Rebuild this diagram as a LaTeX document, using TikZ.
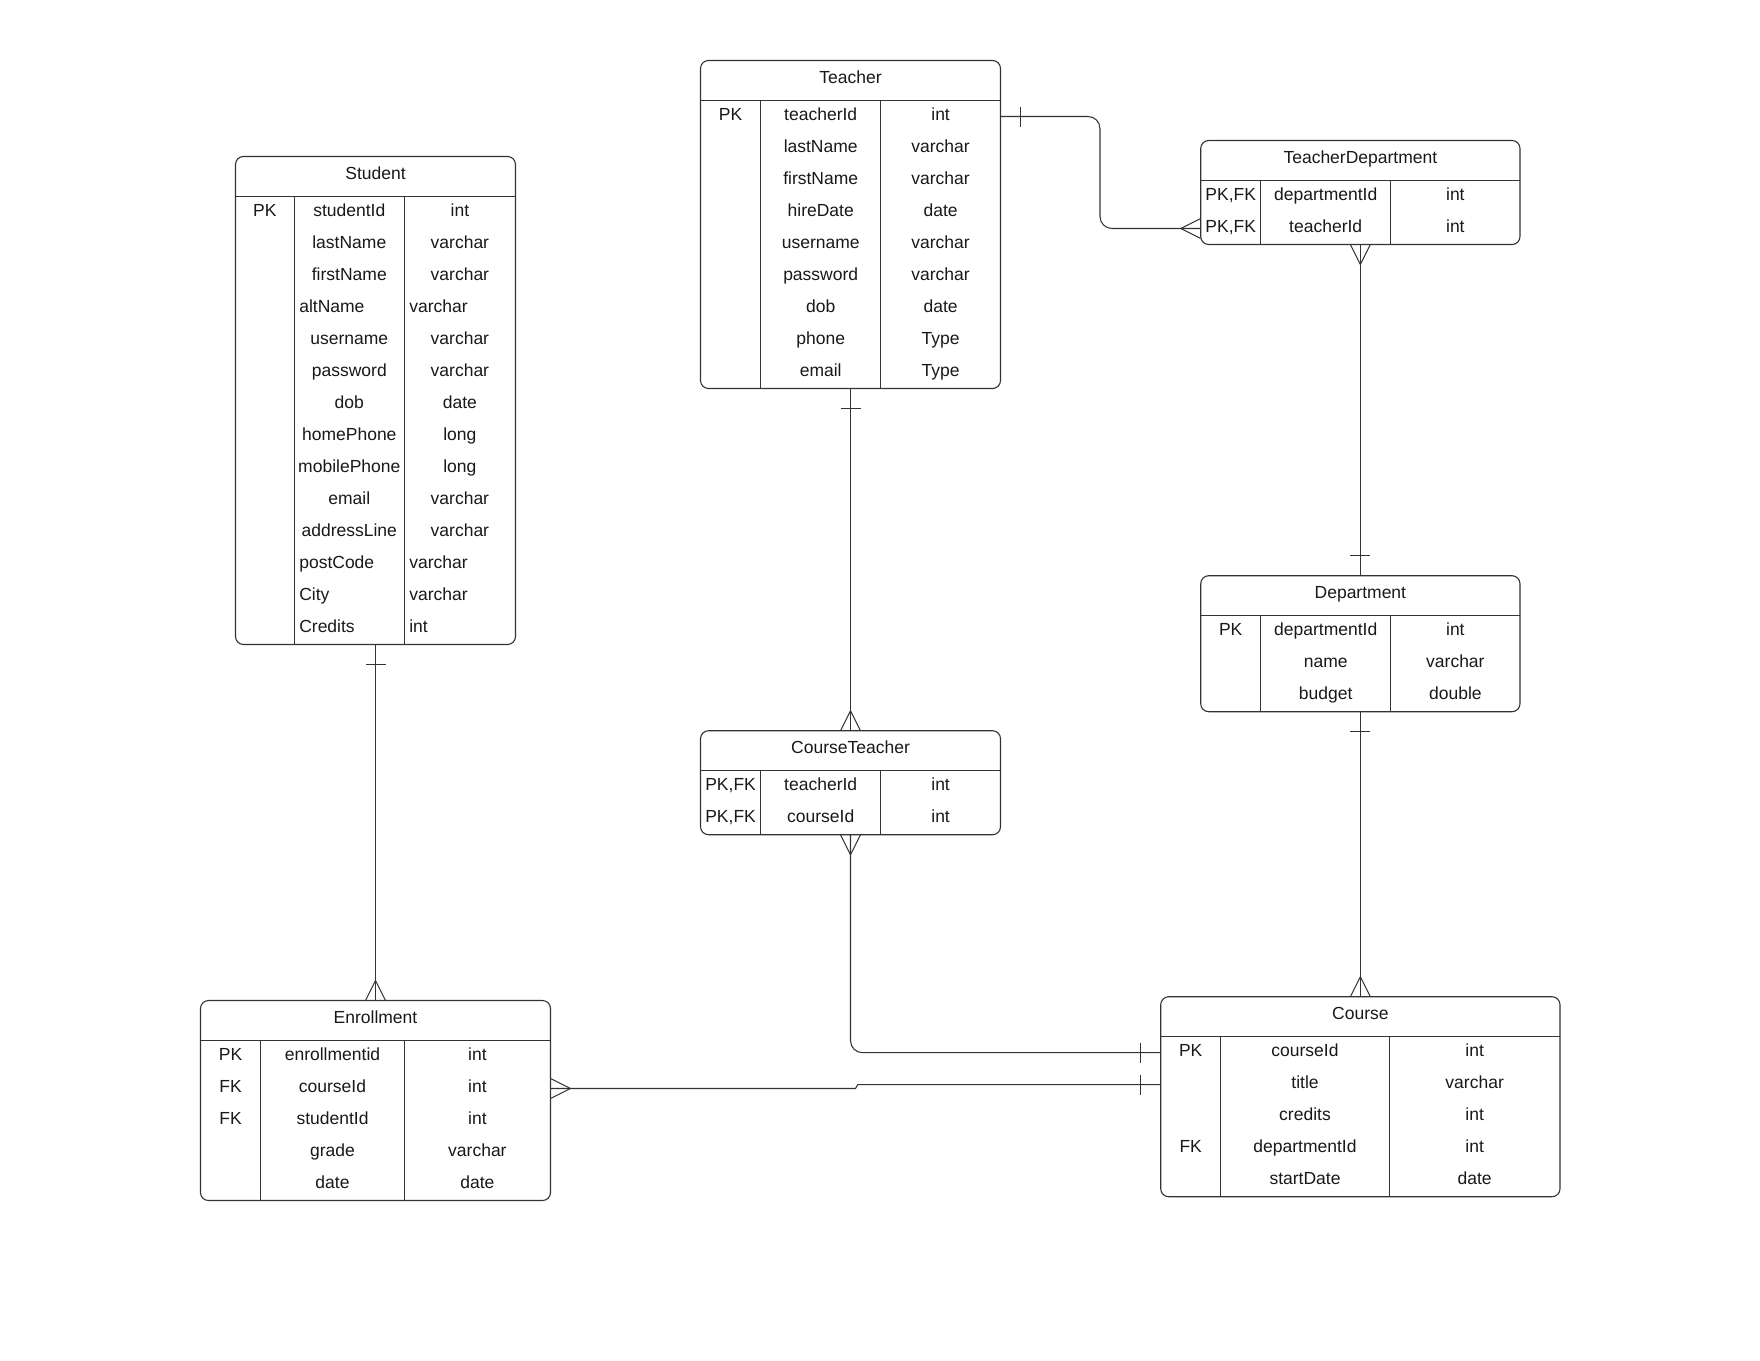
\documentclass[tikz,border=0pt]{standalone}
\usepackage{fontspec}
\setmainfont{Liberation Sans}
\usetikzlibrary{calc}

\tikzset{
  tablebox/.style={draw=black!80, line width=1.1pt, rounded corners=8pt, inner sep=0pt, outer sep=0pt},
  rule/.style={draw=black!80, line width=1.05pt},
  conn/.style={draw=black!80, line width=1.05pt},
  celltext/.style={inner sep=0pt, outer sep=0pt, font=\fontsize{17.5}{21}\selectfont, text=black!90},
}

% \ertable{name}{left}{top}{col1}{col2}{right}{rows}{title}{key/field/type/align list}
\newcommand\ertable[9]{%
  \pgfmathsetmacro\ertH{#3+40}%
  \pgfmathsetmacro\ertB{#3+40+32*#7}%
  \pgfmathsetmacro\ertW{#6-#2}%
  \pgfmathsetmacro\ertHt{\ertB-#3}%
  \node[tablebox, minimum width=\ertW pt, minimum height=\ertHt pt] (#1) at ({(#2+#6)/2},{(#3+\ertB)/2}) {};
  \node[celltext, anchor=base] (#1-title) at ({(#2+#6)/2},{#3+23}) {#8};
  \draw[rule] (#2,\ertH) -- (#6,\ertH);
  \draw[rule] (#4,\ertH) -- (#4,\ertB);
  \draw[rule] (#5,\ertH) -- (#5,\ertB);
  \foreach \k/\n/\t/\al [count=\i] in {#9} {
    \pgfmathsetmacro\ertRY{\ertH+16+32*(\i-1)}
    \coordinate (#1-r\i) at ({(#2+#6)/2},\ertRY);
    \node[celltext, anchor=base] (#1-k\i) at ({(#2+#4)/2},{\ertRY+4}) {\k};
    \if l\al
      \node[celltext, anchor=base west] (#1-n\i) at ({#4+5},{\ertRY+4}) {\n};
      \node[celltext, anchor=base west] (#1-t\i) at ({#5+5},{\ertRY+4}) {\t};
    \else
      \node[celltext, anchor=base] (#1-n\i) at ({(#4+#5)/2},{\ertRY+4}) {\n};
      \node[celltext, anchor=base] (#1-t\i) at ({(#5+#6)/2},{\ertRY+4}) {\t};
    \fi
  }
}

% bar across a connector, 20 units out from the table edge in direction (#2,#3)
\newcommand\onemark[3]{%
  \draw[conn] ($(#1)+(#2*20,#3*20)+(#3*10,#2*10)$) -- ($(#1)+(#2*20,#3*20)-(#3*10,#2*10)$);
}
% crow's foot meeting the table edge, apex 20 units out in direction (#2,#3)
\newcommand\manymark[3]{%
  \draw[conn] ($(#1)+(#3*10,#2*10)$) -- ($(#1)+(#2*20,#3*20)$) -- ($(#1)-(#3*10,#2*10)$);
}

\begin{document}
\begin{tikzpicture}[x=1pt, y=-1pt]
\useasboundingbox (0,0) rectangle (1760,1360);
\fill[white] (0,0) rectangle (1760,1360);

\ertable{student}{235.5}{156.5}{294.3}{404.3}{515.5}{14}{Student}{%
  PK/studentId/int/c, {}/lastName/varchar/c, {}/firstName/varchar/c,
  {}/altName/varchar/l, {}/username/varchar/c, {}/password/varchar/c,
  {}/dob/date/c, {}/homePhone/long/c, {}/mobilePhone/long/c,
  {}/email/varchar/c, {}/addressLine/varchar/c, {}/postCode/varchar/l,
  {}/City/varchar/l, {}/Credits/int/l}

\ertable{teacher}{700.5}{60.5}{760.7}{880.7}{1000.5}{9}{Teacher}{%
  PK/teacherId/int/c, {}/lastName/varchar/c, {}/firstName/varchar/c,
  {}/hireDate/date/c, {}/username/varchar/c, {}/password/varchar/c,
  {}/dob/date/c, {}/phone/Type/c, {}/email/Type/c}

\ertable{td}{1200.7}{140.5}{1260.7}{1390.7}{1520}{2}{TeacherDepartment}{%
  {PK,FK}/departmentId/int/c, {PK,FK}/teacherId/int/c}

\ertable{dept}{1200.7}{575.7}{1260.7}{1390.7}{1520}{3}{Department}{%
  PK/departmentId/int/c, {}/name/varchar/c, {}/budget/double/c}

\ertable{ct}{700.5}{730.7}{760.7}{880.7}{1000.5}{2}{CourseTeacher}{%
  {PK,FK}/teacherId/int/c, {PK,FK}/courseId/int/c}

\ertable{enroll}{200.5}{1000.5}{260.7}{404.3}{550.5}{5}{Enrollment}{%
  PK/enrollmentid/int/c, FK/courseId/int/c, FK/studentId/int/c,
  {}/grade/varchar/c, {}/date/date/c}

\ertable{course}{1160.7}{996.7}{1220.7}{1389.3}{1560}{5}{Course}{%
  PK/courseId/int/c, {}/title/varchar/c, {}/credits/int/c,
  FK/departmentId/int/c, {}/startDate/date/c}

% Teacher -- TeacherDepartment
\coordinate (tA) at (teacher.east |- teacher-r1);
\coordinate (tB) at (td.west |- td-r2);
\path (teacher.east |- td-r2) ++(99.5,0) coordinate (tBend);
\draw[conn, rounded corners=12pt] (tA) -| (tBend) -- (tB);
\onemark{tA}{1}{0}
\manymark{tB}{-1}{0}

% TeacherDepartment -- Department
\draw[conn] (td.south) -- (dept.north);
\manymark{td.south}{0}{1}
\onemark{dept.north}{0}{-1}

% Teacher -- CourseTeacher
\draw[conn] (teacher.south) -- (ct.north);
\onemark{teacher.south}{0}{1}
\manymark{ct.north}{0}{-1}

% Student -- Enrollment
\draw[conn] (student.south) -- (enroll.north);
\onemark{student.south}{0}{1}
\manymark{enroll.north}{0}{-1}

% Department -- Course
\draw[conn] (dept.south) -- (course.north);
\onemark{dept.south}{0}{1}
\manymark{course.north}{0}{-1}

% CourseTeacher -- Course
\coordinate (cA) at (course.west |- course-r1);
\draw[conn, rounded corners=12pt] (ct.south) |- (cA);
\manymark{ct.south}{0}{1}
\onemark{cA}{-1}{0}

% Enrollment -- Course
\coordinate (eA) at (enroll.east |- enroll-r2);
\coordinate (eB) at (course.west |- course-r2);
\path (eA) ++(305,0) coordinate (eJ1);
\path (eB) ++(-303,0) coordinate (eJ2);
\draw[conn] (eA) -- (eJ1) -- (eJ2) -- (eB);
\manymark{eA}{1}{0}
\onemark{eB}{-1}{0}
\end{tikzpicture}
\end{document}
